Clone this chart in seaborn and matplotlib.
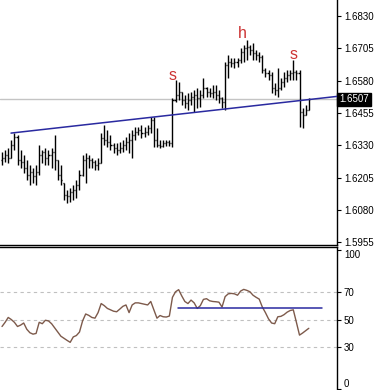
import matplotlib
matplotlib.use("Agg")
import matplotlib.pyplot as plt
import matplotlib.transforms as mtransforms
import numpy as np
import pandas as pd
import seaborn as sns

# ---- data ----
highs = [1.6304, 1.6312, 1.6319, 1.6350, 1.6377, 1.6370, 1.6312, 1.6292, 1.6273, 1.6253,
         1.6242, 1.6253, 1.6331, 1.6312, 1.6319, 1.6312, 1.6319, 1.6370, 1.6273, 1.6253,
         1.6184, 1.6157, 1.6164, 1.6176, 1.6195, 1.6234, 1.6292, 1.6300, 1.6292, 1.6281,
         1.6273, 1.6281, 1.6377, 1.6408, 1.6389, 1.6370, 1.6339, 1.6339, 1.6343, 1.6350,
         1.6362, 1.6377, 1.6389, 1.6401, 1.6401, 1.6408, 1.6401, 1.6408, 1.6439, 1.6439,
         1.6397, 1.6350, 1.6350, 1.6350, 1.6350, 1.6513, 1.6582, 1.6575, 1.6536, 1.6524,
         1.6532, 1.6536, 1.6544, 1.6551, 1.6544, 1.6590, 1.6555, 1.6551, 1.6563, 1.6563,
         1.6544, 1.6517, 1.6652, 1.6679, 1.6668, 1.6668, 1.6668, 1.6706, 1.6718, 1.6737,
         1.6718, 1.6726, 1.6699, 1.6691, 1.6679, 1.6629, 1.6621, 1.6613, 1.6571, 1.6629,
         1.6590, 1.6613, 1.6621, 1.6621, 1.6660, 1.6621, 1.6621, 1.6474, 1.6486, 1.6513]
lows = [1.6253, 1.6265, 1.6261, 1.6281, 1.6312, 1.6253, 1.6242, 1.6223, 1.6195, 1.6176,
        1.6184, 1.6176, 1.6215, 1.6261, 1.6253, 1.6253, 1.6242, 1.6234, 1.6195, 1.6176,
        1.6118, 1.6106, 1.6110, 1.6118, 1.6126, 1.6157, 1.6211, 1.6184, 1.6242, 1.6242,
        1.6234, 1.6234, 1.6261, 1.6331, 1.6323, 1.6312, 1.6300, 1.6292, 1.6300, 1.6304,
        1.6312, 1.6300, 1.6281, 1.6350, 1.6370, 1.6358, 1.6362, 1.6370, 1.6377, 1.6323,
        1.6323, 1.6319, 1.6323, 1.6327, 1.6327, 1.6323, 1.6497, 1.6505, 1.6486, 1.6474,
        1.6466, 1.6486, 1.6459, 1.6474, 1.6478, 1.6513, 1.6517, 1.6517, 1.6513, 1.6505,
        1.6493, 1.6474, 1.6466, 1.6590, 1.6633, 1.6629, 1.6633, 1.6648, 1.6652, 1.6660,
        1.6679, 1.6660, 1.6660, 1.6652, 1.6610, 1.6594, 1.6582, 1.6532, 1.6524, 1.6517,
        1.6544, 1.6555, 1.6575, 1.6582, 1.6582, 1.6582, 1.6401, 1.6397, 1.6447, 1.6466]
opens = [1.6273, 1.6281, 1.6292, 1.6281, 1.6331, 1.6362, 1.6273, 1.6265, 1.6242, 1.6215,
         1.6226, 1.6211, 1.6226, 1.6292, 1.6304, 1.6281, 1.6292, 1.6304, 1.6273, 1.6215,
         1.6184, 1.6137, 1.6134, 1.6149, 1.6157, 1.6176, 1.6215, 1.6273, 1.6281, 1.6273,
         1.6265, 1.6253, 1.6261, 1.6358, 1.6350, 1.6343, 1.6331, 1.6319, 1.6312, 1.6319,
         1.6331, 1.6343, 1.6350, 1.6370, 1.6381, 1.6389, 1.6377, 1.6381, 1.6397, 1.6428,
         1.6350, 1.6331, 1.6327, 1.6339, 1.6343, 1.6339, 1.6505, 1.6524, 1.6536, 1.6505,
         1.6493, 1.6505, 1.6517, 1.6524, 1.6513, 1.6524, 1.6551, 1.6536, 1.6532, 1.6536,
         1.6524, 1.6513, 1.6497, 1.6640, 1.6652, 1.6648, 1.6652, 1.6660, 1.6691, 1.6706,
         1.6710, 1.6699, 1.6687, 1.6679, 1.6671, 1.6621, 1.6610, 1.6602, 1.6551, 1.6544,
         1.6551, 1.6575, 1.6590, 1.6602, 1.6610, 1.6613, 1.6610, 1.6459, 1.6447, 1.6466]
closes = [1.6281, 1.6292, 1.6281, 1.6331, 1.6362, 1.6273, 1.6265, 1.6242, 1.6215, 1.6226,
          1.6211, 1.6226, 1.6292, 1.6304, 1.6281, 1.6292, 1.6304, 1.6273, 1.6215, 1.6195,
          1.6137, 1.6134, 1.6149, 1.6157, 1.6176, 1.6215, 1.6273, 1.6281, 1.6273, 1.6265,
          1.6253, 1.6261, 1.6358, 1.6350, 1.6343, 1.6331, 1.6319, 1.6312, 1.6319, 1.6331,
          1.6343, 1.6350, 1.6370, 1.6381, 1.6389, 1.6377, 1.6381, 1.6397, 1.6428, 1.6350,
          1.6331, 1.6327, 1.6339, 1.6343, 1.6339, 1.6505, 1.6524, 1.6536, 1.6505, 1.6493,
          1.6505, 1.6517, 1.6524, 1.6513, 1.6524, 1.6551, 1.6536, 1.6532, 1.6536, 1.6524,
          1.6513, 1.6497, 1.6640, 1.6652, 1.6648, 1.6652, 1.6660, 1.6691, 1.6706, 1.6710,
          1.6699, 1.6687, 1.6679, 1.6671, 1.6621, 1.6610, 1.6602, 1.6551, 1.6544, 1.6551,
          1.6575, 1.6590, 1.6602, 1.6610, 1.6613, 1.6610, 1.6459, 1.6447, 1.6466, 1.6507]
rsi = [45, 48, 51.5, 50, 48, 45, 46, 47.5, 43, 40.5,
       39.5, 40, 48, 47, 49.5, 49, 47, 44, 41, 38,
       36.5, 35, 33.6, 37.5, 38.5, 41, 49, 54, 53, 51.5,
       51, 55, 61.5, 60, 58, 57, 56, 55.6, 57.5, 59.5,
       60.5, 55, 60.5, 62, 62, 61.5, 61, 60.5, 63, 57,
       51, 52.9, 52, 51.8, 52.5, 66, 70, 71.5, 67, 63,
       61.5, 64, 62, 58, 60, 64.5, 65, 63.5, 63, 62.8,
       62.5, 59, 66.5, 68.5, 68.8, 68.5, 67.5, 70.5, 71.7, 71,
       70, 67.5, 66, 64.7, 59, 55, 50.5, 47.5, 47, 52,
       52.3, 53.5, 55.3, 56.5, 57, 48, 38.8, 40.3, 42, 43.7]

price_ticks = [1.5955, 1.6080, 1.6205, 1.6330, 1.6455, 1.6580, 1.6705, 1.6830]
price_tick_labels = ["1.5955", "1.6080", "1.6205", "1.6330", "1.6455", "1.6580", "1.6705", "1.6830"]
rsi_ticks = [0, 30, 50, 70, 100]
rsi_tick_labels = ["0", "30", "50", "70", "100"]
rsi_levels = [30, 50, 70]
current_price = 1.6507
current_label = "1.6507"
trend_x = [2.9, 108.1]
trend_y = [1.6377, 1.6519]
rsi_line_x = [56.8, 103.2]
rsi_line_y = [58, 58]
pattern_labels = ["s", "h", "s"]
pattern_x = [55.0, 77.4, 94.0]
pattern_y = [1.6582, 1.6745, 1.6664]

# ---- styling ----
sns.set_theme(style="white")
plt.rcParams['font.family'] = ['Liberation Sans', 'DejaVu Sans']

W, H = 378, 390
fig = plt.figure(figsize=(W / 100, H / 100), dpi=100)
fig.patch.set_facecolor("white")
ax = fig.add_axes([0, 145 / H, 337 / W, 245 / H])
ax2 = fig.add_axes([0, 0, 337 / W, 143 / H])

df = pd.DataFrame({"idx": np.arange(len(closes)), "high": highs, "low": lows,
                   "open": opens, "close": closes, "rsi": rsi})

# ---- price panel ----
ax.axhline(current_price, color="#c4c4c4", lw=1, zorder=1)
ax.vlines(df["idx"], df["low"], df["high"], color="black", lw=1.0, zorder=3)
ax.hlines(df["open"], df["idx"] - 0.34, df["idx"], color="black", lw=1.0, zorder=3)
ax.hlines(df["close"], df["idx"], df["idx"] + 0.34, color="black", lw=1.0, zorder=3)
sns.lineplot(x=trend_x, y=trend_y, ax=ax, color="#2a2aa0", lw=1.1, zorder=4)
for t, x, y in zip(pattern_labels, pattern_x, pattern_y):
    ax.text(x, y, t, color="#cc3333", fontsize=11.5, ha="center", va="baseline", zorder=5)

ax.set_xlim(-0.65, 108.1)
ax.set_ylim(1.5944, 1.6892)
ax.set_xticks([])
ax.yaxis.tick_right()
ax.set_yticks(price_ticks)
ax.set_yticklabels(price_tick_labels)
ax.tick_params(axis="y", which="major", right=True, left=False, direction="out",
               length=3, width=0.8, pad=2, labelsize=7, colors="black")
for s in ["left", "top"]:
    ax.spines[s].set_visible(False)
for s in ["right", "bottom"]:
    ax.spines[s].set_visible(True)
    ax.spines[s].set_color("black")
    ax.spines[s].set_linewidth(1)
ax.set_facecolor("white")
ax.set_xlabel("")
ax.set_ylabel("")

trans = mtransforms.blended_transform_factory(ax.transAxes, ax.transData)
ax.text(1.006, current_price, current_label, transform=trans, ha="left", va="center",
        color="white", fontsize=7, clip_on=False,
        bbox=dict(boxstyle="square,pad=0.2", fc="black", ec="black"))

# ---- RSI panel ----
for lv in rsi_levels:
    ax2.axhline(lv, color="#c0c0c0", lw=0.8, ls=(0, (3, 3)), zorder=1)
sns.lineplot(data=df, x="idx", y="rsi", ax=ax2, color="#7d5a4b", lw=1, zorder=3)
sns.lineplot(x=rsi_line_x, y=rsi_line_y, ax=ax2, color="#2a2aa0", lw=1.1, zorder=4)
ax2.set_xlim(-0.65, 108.1)
ax2.set_ylim(-0.7, 102.2)
ax2.set_xticks([])
ax2.yaxis.tick_right()
ax2.set_yticks(rsi_ticks)
ax2.set_yticklabels(rsi_tick_labels)
ax2.tick_params(axis="y", which="major", right=True, left=False, direction="out",
                length=3, width=0.8, pad=2, labelsize=7, colors="black")
labs = ax2.get_yticklabels()
labs[0].set_va("bottom")
labs[-1].set_va("top")
for s in ["left", "bottom"]:
    ax2.spines[s].set_visible(False)
for s in ["right", "top"]:
    ax2.spines[s].set_visible(True)
    ax2.spines[s].set_color("black")
    ax2.spines[s].set_linewidth(1)
ax2.set_facecolor("white")
ax2.set_xlabel("")
ax2.set_ylabel("")

fig.savefig("out.png", dpi=100)
